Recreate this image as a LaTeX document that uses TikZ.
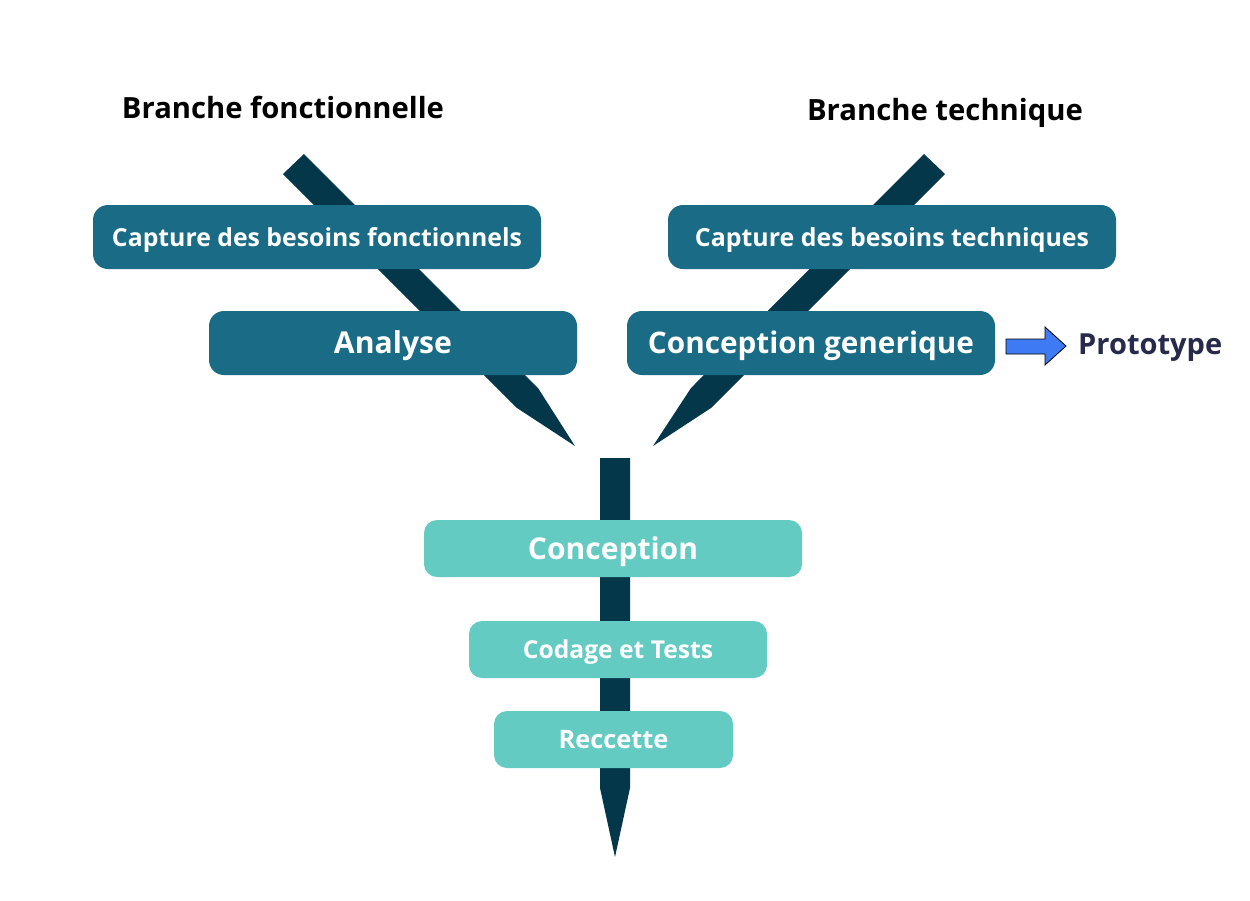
\documentclass[tikz,border=0pt]{standalone}
\usepackage{fontspec}
\setmainfont{Open Sans}
\usepackage{graphicx}
\definecolor{pencil}{HTML}{05374A}
\definecolor{darkbox}{HTML}{196B86}
\definecolor{lightbox}{HTML}{64CBC3}
\definecolor{arrowblue}{HTML}{3F7AF5}
\definecolor{navy}{HTML}{272A4A}
\newcommand{\fitw}[2]{\resizebox{#1pt}{!}{\bfseries #2}}
\newcommand{\fitd}[2]{\raisebox{-3pt}[\height][\depth]{\resizebox{#1pt}{!}{\bfseries #2}}}
\begin{document}
\begin{tikzpicture}[x=1pt,y=-1pt,
  darkstep/.style={fill=darkbox,rounded corners=15pt,text=white,inner sep=0pt},
  lightstep/.style={fill=lightbox,rounded corners=13pt,text=white,inner sep=0pt},
  pencilshape/.style={fill=pencil,draw=none},
  titletext/.style={text=black,inner sep=0pt}]
\useasboundingbox (0,0) rectangle (1250,900);
% pencils
\fill[pencilshape] (283,174) -- (304,154) -- (538,388) -- (575,446) -- (517,408) -- cycle;
\fill[pencilshape] (924,154) -- (945,174) -- (711,408) -- (653,446) -- (691,388) -- cycle;
\fill[pencilshape] (600,458) -- (630,458) -- (630,788) -- (615,857) -- (600,788) -- cycle;
% titles
\node[titletext] (bf) at (283,107) {\fitw{322}{Branche fonctionnelle}};
\node[titletext] (bt) at (945,110) {\fitd{276}{Branche technique}};
% dark boxes
\node[darkstep,minimum width=448pt,minimum height=64pt] (cbf) at (317,237) {\fitd{410}{Capture des besoins fonctionnels}};
\node[darkstep,minimum width=368pt,minimum height=64pt] (an) at (393,343) {\fitd{118}{Analyse}};
\node[darkstep,minimum width=448pt,minimum height=64pt] (cbt) at (892,237) {\fitd{394}{Capture des besoins techniques}};
\node[darkstep,minimum width=368pt,minimum height=64pt] (cg) at (811,343) {\fitd{326}{Conception generique}};
% light boxes
\node[lightstep,minimum width=378pt,minimum height=57pt] (co) at (613,548.5) {\fitd{170}{Conception}};
\node[lightstep,minimum width=298pt,minimum height=57pt] (ct) at (618,649.5) {\fitd{190}{Codage et Tests}};
\node[lightstep,minimum width=239pt,minimum height=57pt] (re) at (613.5,739.5) {\fitw{110}{Reccette}};
% prototype
\node[text=navy,inner sep=0pt,anchor=west] (pr) at (1078,345) {\fitd{144}{Prototype}};
\draw[fill=arrowblue,draw=black,line width=0.8pt,line join=miter]
  (1006,339) -- (1045,339) -- (1045,327) -- (1066,346) -- (1045,365) -- (1045,354) -- (1006,354) -- cycle;
\end{tikzpicture}
\end{document}
